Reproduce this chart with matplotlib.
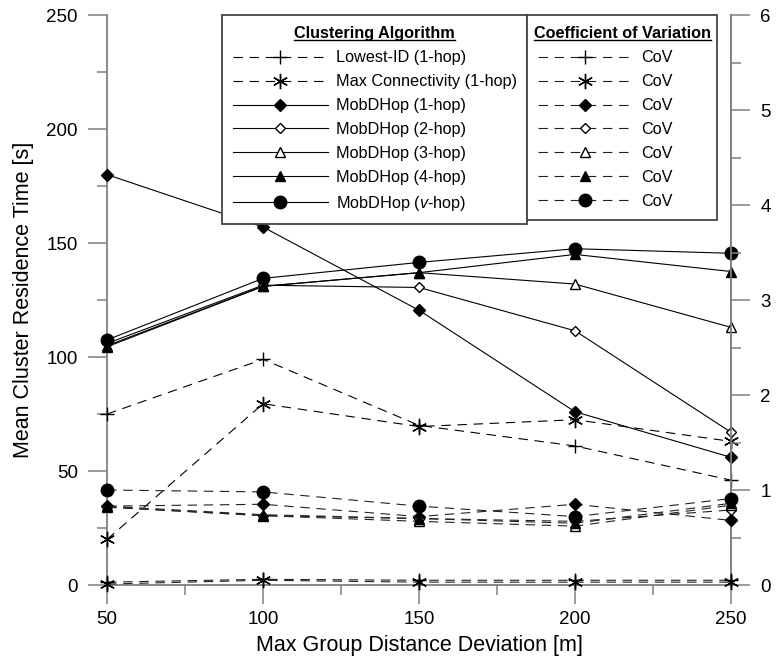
import matplotlib
matplotlib.use('Agg')
import matplotlib.pyplot as plt
from matplotlib.lines import Line2D
from matplotlib.ticker import MultipleLocator

plt.rcParams['font.family'] = ['Liberation Sans', 'DejaVu Sans']
plt.rcParams['mathtext.fontset'] = 'custom'
plt.rcParams['mathtext.rm'] = 'Liberation Sans'
plt.rcParams['mathtext.it'] = 'Liberation Sans:italic'

# data
deviation = [50, 100, 150, 200, 250]

# mean cluster residence time [s] (left axis)
lowest_id = [75, 99, 70, 61, 46]
max_conn = [20, 79.5, 69.5, 72.5, 63]
mobd_1 = [180, 157, 120.5, 76, 56]
mobd_2 = [106, 131.5, 130.5, 111.5, 67]
mobd_3 = [105, 131, 137, 132, 113]
mobd_4 = [104.5, 131, 137, 145, 137.5]
mobd_v = [107.5, 134.5, 141.5, 147.5, 145.5]

# coefficient of variation (right axis)
cov_lowest = [0.03, 0.06, 0.05, 0.05, 0.05]
cov_maxconn = [0.01, 0.05, 0.03, 0.03, 0.03]
cov_1 = [0.83, 0.85, 0.72, 0.85, 0.68]
cov_2 = [0.82, 0.73, 0.70, 0.67, 0.79]
cov_3 = [0.82, 0.73, 0.67, 0.62, 0.84]
cov_4 = [0.83, 0.74, 0.70, 0.65, 0.86]
cov_v = [1.0, 0.98, 0.83, 0.72, 0.91]

labels = ['Lowest-ID (1-hop)', 'Max Connectivity (1-hop)', 'MobDHop (1-hop)',
          'MobDHop (2-hop)', 'MobDHop (3-hop)', 'MobDHop (4-hop)',
          'MobDHop ($v$-hop)']

DASH = (0, (8.5, 6))
AXCOL = '#808080'

# marker styles: (marker, size, facecolor)
styles = [
    ('+', 10, 'k'),
    ((6, 2, 0), 11, 'k'),
    ('D', 6.5, 'k'),
    ('D', 5.5, 'white'),
    ('^', 7, 'white'),
    ('^', 7.5, 'k'),
    ('o', 9, 'k'),
]
means = [lowest_id, max_conn, mobd_1, mobd_2, mobd_3, mobd_4, mobd_v]
covs = [cov_lowest, cov_maxconn, cov_1, cov_2, cov_3, cov_4, cov_v]
mean_ls = [DASH, DASH, '-', '-', '-', '-', '-']

fig = plt.figure(figsize=(7.76, 6.62), dpi=100)
ax = fig.add_axes([0.138, 0.1163, 0.804, 0.861])
ax2 = ax.twinx()

for vals, ls, (m, ms, fc) in zip(means, mean_ls, styles):
    ax.plot(deviation, vals, color='k', lw=0.8, linestyle=ls, marker=m, ms=ms,
            mfc=fc, mec='k', mew=1.0, clip_on=False, zorder=3)

for vals, (m, ms, fc) in zip(covs, styles):
    ax2.plot(deviation, vals, color='#222222', lw=0.8, linestyle=DASH, marker=m,
             ms=ms, mfc=fc, mec='k', mew=1.0, clip_on=False, zorder=3)

ax.set_xlim(50, 250)
ax.set_ylim(0, 250)
ax2.set_ylim(0, 6)
ax.set_xticks(deviation)
ax.xaxis.set_minor_locator(MultipleLocator(25))
ax.yaxis.set_major_locator(MultipleLocator(50))
ax.yaxis.set_minor_locator(MultipleLocator(25))
ax2.yaxis.set_major_locator(MultipleLocator(1))
ax2.yaxis.set_minor_locator(MultipleLocator(0.5))

for a in (ax, ax2):
    for side in ['top', 'left', 'right', 'bottom']:
        a.spines[side].set_color(AXCOL)
        a.spines[side].set_linewidth(1.3)
    a.spines['top'].set_visible(False)
    a.tick_params(which='major', length=14, width=1.1, color=AXCOL,
                  labelsize=13.5, pad=7)
    a.tick_params(which='minor', length=7, width=1.1, color=AXCOL)
ax2.spines['left'].set_visible(False)
ax2.spines['bottom'].set_visible(False)
ax.tick_params(axis='x', which='major', pad=5)

ax.set_xlabel('Max Group Distance Deviation [m]', fontsize=15.5, labelpad=5)
ax.set_ylabel('Mean Cluster Residence Time [s]', fontsize=15.5, labelpad=9)

# legends
h1 = [Line2D([], [], color='k', lw=0.8, linestyle=ls, marker=m, ms=ms, mfc=fc,
             mec='k', mew=1.0)
      for ls, (m, ms, fc) in zip(mean_ls, styles)]
h2 = [Line2D([], [], color='#222222', lw=0.8, linestyle=DASH, marker=m, ms=ms,
             mfc=fc, mec='k', mew=1.0)
      for (m, ms, fc) in styles]

common = dict(loc='upper left', mode='expand', borderaxespad=0, fancybox=False,
              framealpha=1, edgecolor='#444444', fontsize=11.7,
              title_fontproperties={'weight': 'bold', 'size': 11.7},
              handlelength=5.8, handletextpad=0.5, labelspacing=0.55,
              borderpad=0.7)
leg1 = ax2.legend(h1, labels, bbox_to_anchor=(0.184, 0.647, 0.489, 0.353),
                  title='Clustering Algorithm', **common)
leg1.get_frame().set_linewidth(1.3)
ax2.add_artist(leg1)
leg2 = ax2.legend(h2, ['CoV'] * 7, bbox_to_anchor=(0.673, 0.647, 0.305, 0.353),
                  title='Coefficient of Variation', **common)
leg2.get_frame().set_linewidth(1.3)

# underline the legend titles
fig.canvas.draw()
renderer = fig.canvas.get_renderer()
inv = fig.transFigure.inverted()
for leg in (leg1, leg2):
    bb = leg.get_title().get_window_extent(renderer)
    (x0, y0), (x1, _) = inv.transform([[bb.x0, bb.y0 + 1], [bb.x1, bb.y0 + 1]])
    fig.add_artist(Line2D([x0, x1], [y0, y0], color='k', lw=1.0,
                          transform=fig.transFigure))

fig.savefig('out.png', dpi=100)
